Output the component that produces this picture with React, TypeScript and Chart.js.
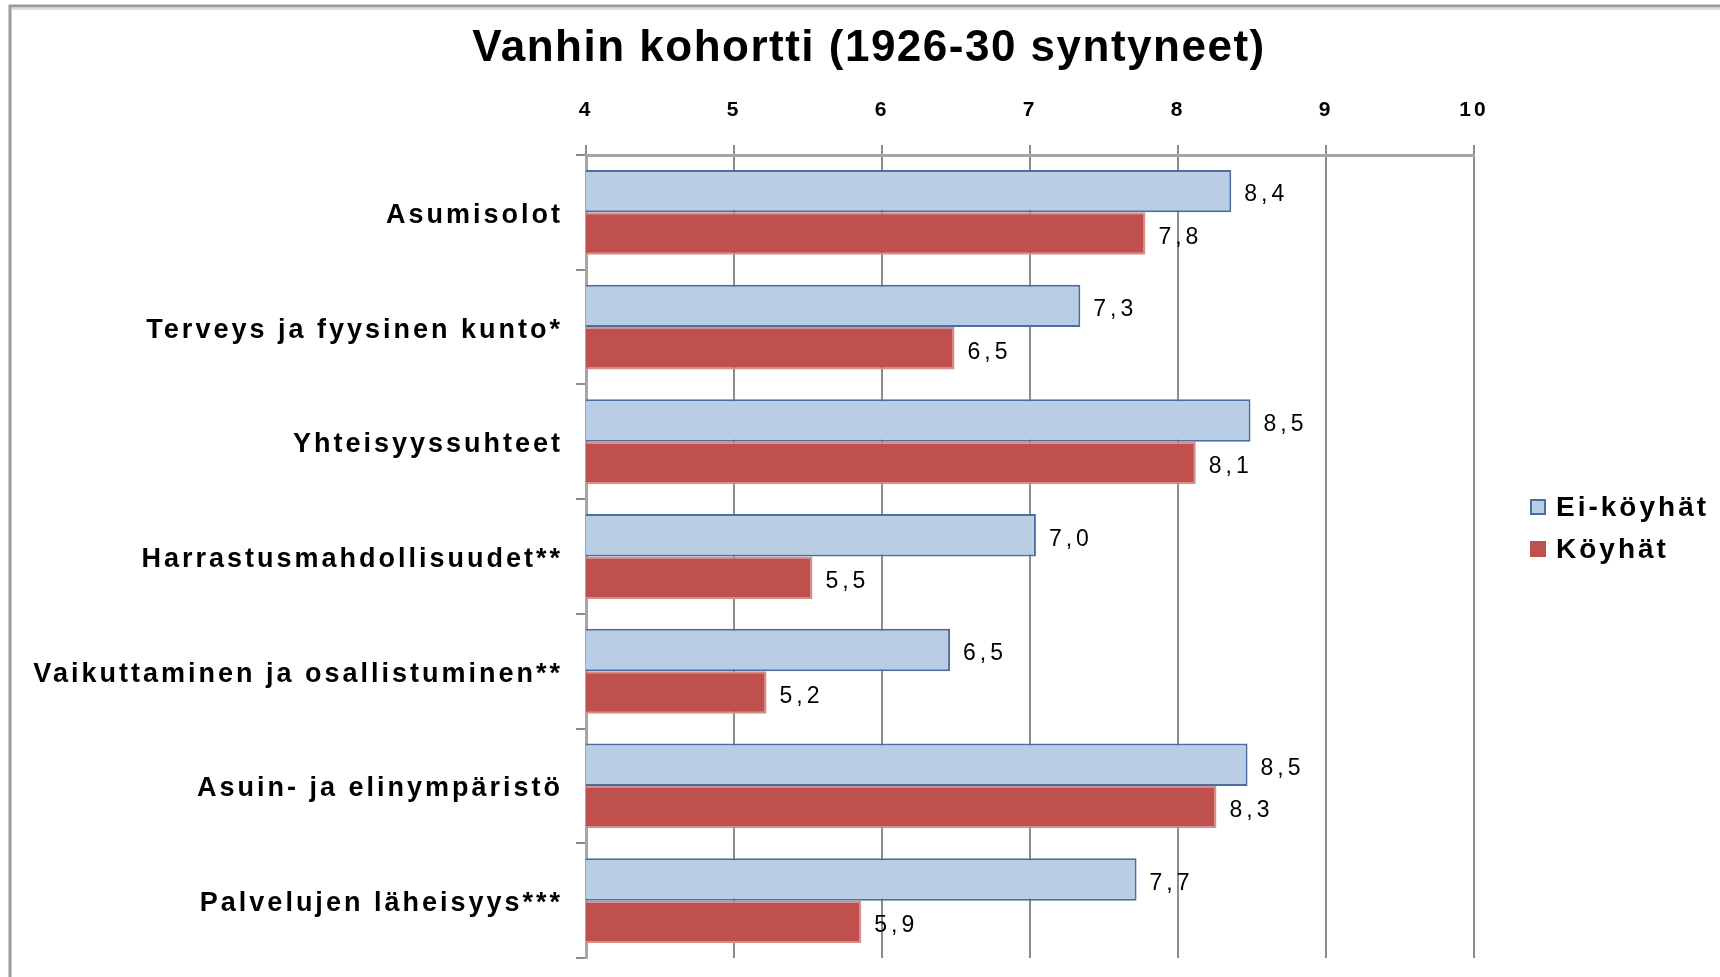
import React, { useEffect, useRef } from "react";
import { Chart, registerables } from "chart.js";

Chart.register(...registerables);

const TITLE = "Vanhin kohortti (1926-30 syntyneet)";
const CATEGORIES = [
  "Asumisolot",
  "Terveys ja fyysinen kunto*",
  "Yhteisyyssuhteet",
  "Harrastusmahdollisuudet**",
  "Vaikuttaminen ja osallistuminen**",
  "Asuin- ja elinympäristö",
  "Palvelujen läheisyys***",
];
const SERIES_NAMES = ["Ei-köyhät", "Köyhät"];
const EI_KOYHAT = [8.36, 7.34, 8.49, 7.04, 6.46, 8.47, 7.72];
const KOYHAT = [7.78, 6.49, 8.12, 5.53, 5.22, 8.26, 5.86];
const X_MIN = 4;
const X_MAX = 10;
const X_STEP = 1;

const FONT = "'Liberation Sans', Arial, sans-serif";

const fmt = (v: number) => v.toFixed(1).replace(".", ",");

const spacingPlugin = {
  id: "spacing",
  beforeUpdate(chart: any) {
    chart.ctx.letterSpacing = "3px";
  },
  beforeDraw(chart: any) {
    chart.ctx.letterSpacing = "3px";
  },
};

const framePlugin = {
  id: "frame",
  beforeDraw(chart: any) {
    const ctx = chart.ctx;
    ctx.save();
    ctx.strokeStyle = "#9a9a9a";
    ctx.lineWidth = 3;
    ctx.beginPath();
    ctx.moveTo(10, 977);
    ctx.lineTo(10, 6);
    ctx.lineTo(1720, 6);
    ctx.stroke();
    ctx.strokeStyle = "#dcdcdc";
    ctx.lineWidth = 2;
    ctx.beginPath();
    ctx.moveTo(12, 9);
    ctx.lineTo(1720, 9);
    ctx.stroke();
    ctx.restore();
  },
};

const titlePlugin = {
  id: "customTitle",
  afterDraw(chart: any) {
    const ctx = chart.ctx;
    ctx.save();
    ctx.letterSpacing = "1.5px";
    ctx.font = `bold 44px ${FONT}`;
    ctx.fillStyle = "#000";
    ctx.textAlign = "center";
    ctx.textBaseline = "middle";
    ctx.fillText(TITLE, 869, 49);
    ctx.restore();
  },
};

const dataLabelPlugin = {
  id: "dataLabels",
  afterDatasetsDraw(chart: any) {
    const ctx = chart.ctx;
    ctx.save();
    ctx.letterSpacing = "4px";
    ctx.font = `23px ${FONT}`;
    ctx.fillStyle = "#000";
    ctx.textAlign = "left";
    ctx.textBaseline = "middle";
    chart.data.datasets.forEach((ds: any, di: number) => {
      const meta = chart.getDatasetMeta(di);
      meta.data.forEach((bar: any, i: number) => {
        ctx.fillText(fmt(ds.data[i]), bar.x + 13, bar.y + 4);
      });
    });
    ctx.restore();
  },
};

const legendPlugin = {
  id: "customLegend",
  afterDraw(chart: any) {
    const ctx = chart.ctx;
    const x = chart.chartArea.right + 56;
    const y0 = 507;
    const gap = 42;
    ctx.save();
    ctx.letterSpacing = "3px";
    ctx.font = `bold 28px ${FONT}`;
    ctx.textAlign = "left";
    ctx.textBaseline = "middle";
    chart.data.datasets.forEach((ds: any, i: number) => {
      const y = y0 + i * gap;
      ctx.fillStyle = ds.backgroundColor;
      ctx.fillRect(x, y - 8, 16, 16);
      if (i === 0) {
        ctx.strokeStyle = ds.borderColor;
        ctx.lineWidth = 2;
        ctx.strokeRect(x + 1, y - 7, 14, 14);
      }
      ctx.fillStyle = "#000";
      ctx.fillText(ds.label, x + 26, y + 1);
    });
    ctx.restore();
  },
};

export default function App() {
  const ref = useRef<HTMLCanvasElement | null>(null);
  useEffect(() => {
    if (!ref.current) return;
    const chart = new Chart(ref.current, {
      type: "bar",
      data: {
        labels: CATEGORIES,
        datasets: [
          {
            label: SERIES_NAMES[0],
            data: EI_KOYHAT,
            backgroundColor: "#B9CDE5",
            borderColor: "#4A6E9E",
            borderWidth: 2,
            borderSkipped: false,
            categoryPercentage: 0.74,
            barPercentage: 1,
          },
          {
            label: SERIES_NAMES[1],
            data: KOYHAT,
            backgroundColor: "#C0504D",
            borderColor: "#D48E8C",
            borderWidth: 2,
            borderSkipped: false,
            categoryPercentage: 0.74,
            barPercentage: 1,
          },
        ],
      },
      options: {
        indexAxis: "y",
        responsive: false,
        animation: false,
        devicePixelRatio: 1,
        layout: { padding: { left: 0, right: 246, top: 68, bottom: 19 } },
        plugins: {
          legend: { display: false },
          tooltip: { enabled: false },
          title: { display: false },
        },
        scales: {
          x: {
            position: "top",
            min: X_MIN,
            max: X_MAX,
            ticks: {
              stepSize: X_STEP,
              color: "#000",
              font: { family: FONT, size: 21, weight: "bold" },
              padding: 22,
            },
            grid: {
              color: "#8c8c8c",
              lineWidth: 2,
              tickLength: 10,
              drawTicks: true,
            },
            border: { display: true, color: "#a6a6a6", width: 3 },
            afterFit: (scale: any) => {
              scale.height = 87;
            },
          },
          y: {
            ticks: {
              color: "#000",
              font: { family: FONT, size: 27, weight: "bold" },
              padding: 13,
              labelOffset: 3,
            },
            grid: {
              drawOnChartArea: false,
              drawTicks: true,
              tickLength: 10,
              color: "#8c8c8c",
              lineWidth: 2,
            },
            border: { display: true, color: "#a6a6a6", width: 3 },
            afterFit: (scale: any) => {
              scale.width = 586;
              scale.paddingTop = 0;
              scale.paddingBottom = 0;
            },
          },
        },
      },
      plugins: [spacingPlugin, framePlugin, titlePlugin, dataLabelPlugin, legendPlugin],
    });
    return () => chart.destroy();
  }, []);
  return (
    <div style={{ position: "fixed", left: 0, top: 0, width: 1720, height: 977, background: "#fff" }}>
      <canvas ref={ref} width={1720} height={977} style={{ display: "block" }} />
    </div>
  );
}
